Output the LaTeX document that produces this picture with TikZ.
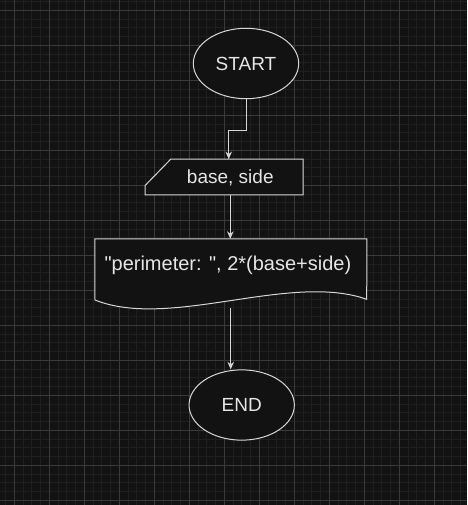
\documentclass[tikz,border=0pt]{standalone}
\usepackage{fontspec}
\setmainfont{Liberation Sans}
\newfontfamily\plainsans{Liberation Sans}
\usetikzlibrary{arrows.meta,shapes.geometric,calc}
\definecolor{bgc}{RGB}{18,18,18}
\definecolor{minorc}{RGB}{31,31,31}
\definecolor{majorc}{RGB}{58,58,58}
\definecolor{linec}{RGB}{215,215,215}
\definecolor{textc}{RGB}{230,230,230}
\tikzset{
  term/.style={ellipse,draw=linec,fill=bgc,line width=1pt,text=textc,inner sep=0pt,font=\plainsans\fontsize{19}{22}\selectfont},
  lbl/.style={text=textc,inner sep=0pt,font=\plainsans\fontsize{19}{22}\selectfont},
  shapeline/.style={draw=linec,fill=bgc,line width=1pt},
  conn/.style={draw=linec,line width=1pt,-{Stealth[length=7.5pt,width=6.5pt]}},
  hidden/.style={rectangle,inner sep=0pt,draw=none}
}
\begin{document}
\begin{tikzpicture}[x=1pt,y=-1pt]
\useasboundingbox (0,0) rectangle (467,505);
\fill[bgc] (0,0) rectangle (467,505);
% grid
\foreach \i in {0,...,57} {
  \draw[minorc,line width=0.9pt] ({-20.7+8.75*\i},0) -- ({-20.7+8.75*\i},505);
}
\foreach \i in {0,...,61} {
  \draw[minorc,line width=0.9pt] (0,{-24.7+8.75*\i}) -- (467,{-24.7+8.75*\i});
}
\foreach \i in {0,...,13} {
  \draw[majorc,line width=1pt] ({14.3+35*\i},0) -- ({14.3+35*\i},505);
}
\foreach \i in {0,...,14} {
  \draw[majorc,line width=1pt] (0,{10.3+35*\i}) -- (467,{10.3+35*\i});
}
% START
\node[term,minimum width=105.4pt,minimum height=70.4pt] (start) at (246,63.5) {START};
% manual input
\node[hidden,minimum width=157.7pt,minimum height=35.4pt] (inbox) at (224.15,177) {};
\path[shapeline] (inbox.south west) -- ($(inbox.south west)+(0,-9.4)$) -- ($(inbox.north west)+(25.7,0)$) -- (inbox.north east) -- (inbox.south east) -- cycle;
\node[lbl] (intext) at (230.3,178) {base, side};
% document
\node[hidden,minimum width=271.7pt,minimum height=61pt] (doc) at (230.85,269.5) {};
\path[shapeline] (doc.north west) -- (doc.north east) -- (366.7,299.3) .. controls (290,272) and (170,330) .. (95,300) -- cycle;
\node[lbl,font=\plainsans\fontsize{20}{24}\selectfont] (doctext) at (227.9,265) {"perimeter: ", 2*(base+side)};
\coordinate (docout) at (230.7,308);
% END
\node[term,minimum width=105.3pt,minimum height=70.3pt] (end) at (241.7,405) {END};
% connectors
\coordinate (b1) at (228.7,131);
\draw[conn] (start.south) |- (b1) -- (b1 |- inbox.north);
\draw[conn] (inbox.south -| intext) -- (intext |- doc.north);
\draw[conn] (docout) -- (docout |- end.north);
\end{tikzpicture}
\end{document}
